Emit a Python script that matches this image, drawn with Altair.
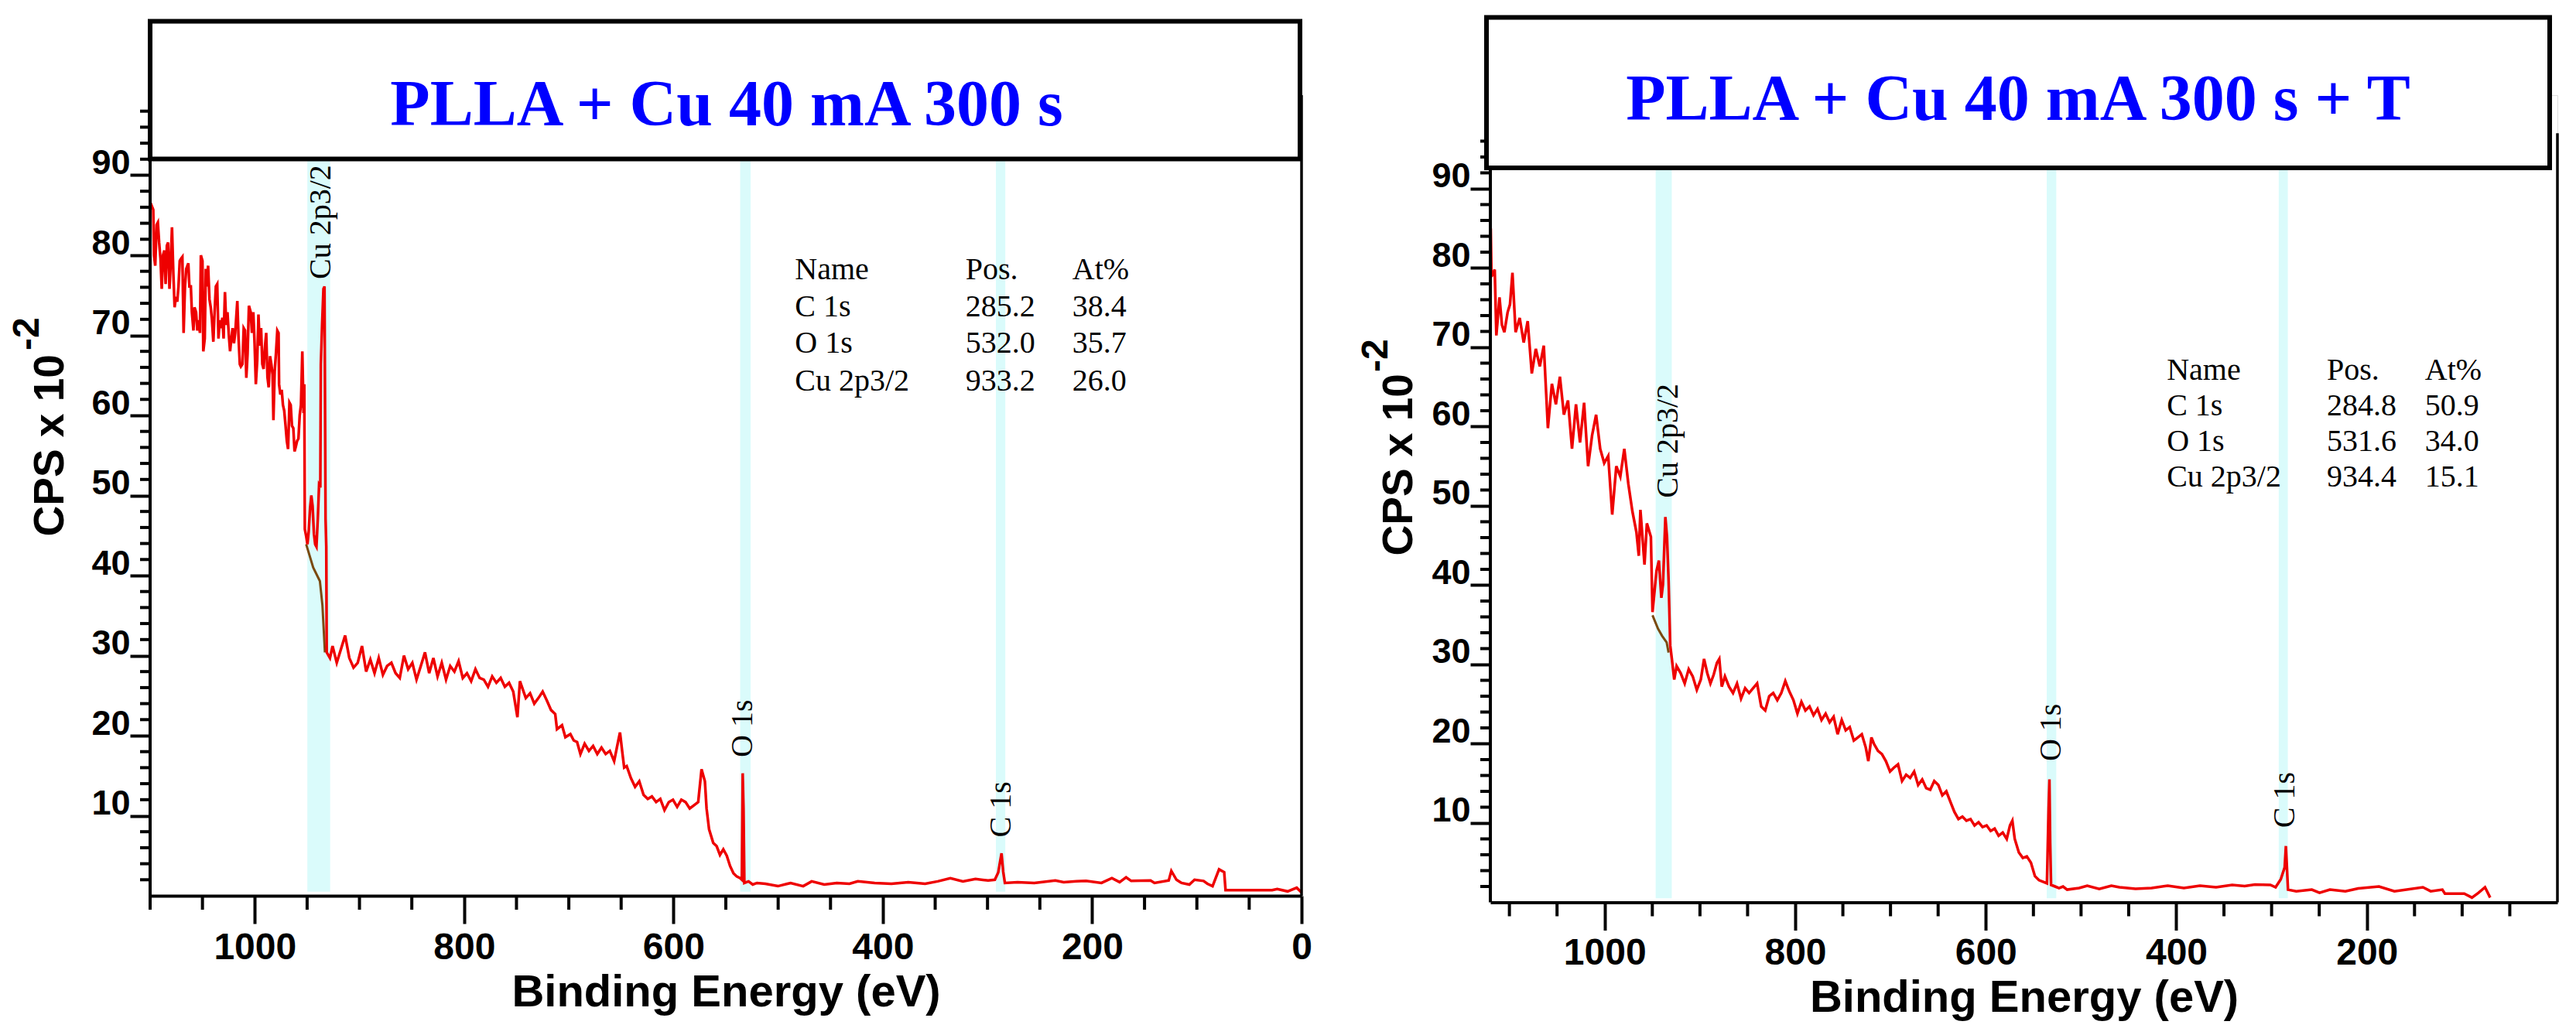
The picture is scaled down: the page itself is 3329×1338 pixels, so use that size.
import altair as alt
import pandas as pd

# ---------------- shared tick values / labels ----------------
Y_MAJOR = [10, 20, 30, 40, 50, 60, 70, 80, 90]
TABLE_HEAD = ["Name", "Pos.", "At%"]
PEAK_NAMES = ["Cu 2p3/2", "O 1s", "C 1s"]

# ---------------- Left panel: PLLA + Cu 40 mA 300 s ----------------
L_TITLE = "PLLA + Cu 40 mA 300 s"
L_X_MAJOR = [1000, 800, 600, 400, 200, 0]
L_X_MINOR = [1100, 1050, 950, 900, 850, 750, 700, 650, 550, 500, 450, 350, 300, 250, 150, 100, 50]
L_Y_MINOR = [v for v in range(2, 100, 2) if v % 10]
L_BE = [1099.5, 1097.0, 1096.3, 1095.1, 1093.8, 1092.6, 1091.4, 1090.1, 1088.9, 1087.7,
        1086.4, 1085.2, 1084.0, 1082.8, 1081.5, 1080.3, 1079.1, 1077.8, 1076.6, 1075.4,
        1074.1, 1072.9, 1071.7, 1070.4, 1069.2, 1068.0, 1066.7, 1065.5, 1063.5, 1062.5,
        1061.1, 1060.1, 1058.6, 1057.6, 1056.1, 1054.9, 1053.7, 1052.4, 1051.5, 1050.0,
        1049.2, 1047.8, 1046.8, 1045.8, 1044.6, 1043.3, 1042.1, 1040.9, 1039.6, 1038.4,
        1037.2, 1035.9, 1034.7, 1033.5, 1032.2, 1031.0, 1029.8, 1028.5, 1027.3, 1026.1,
        1024.8, 1023.6, 1022.4, 1021.2, 1019.9, 1018.7, 1016.7, 1015.5, 1014.3, 1013.3,
        1011.8, 1010.6, 1009.3, 1008.1, 1006.9, 1005.6, 1003.9, 1002.7, 1001.4, 1000.2,
        999.0, 997.7, 996.5, 995.3, 994.0, 992.8, 991.6, 990.4, 989.1, 987.9,
        986.7, 985.4, 984.2, 983.0, 982.2, 981.0, 979.8, 978.5, 977.3, 976.8,
        975.6, 974.3, 973.1, 971.9, 970.6, 969.4, 968.2, 966.9, 965.7, 964.5,
        963.2, 962.0, 960.8, 959.6, 958.3, 957.1, 955.9, 954.6, 953.4, 952.7,
        952.2, 950.9, 949.7, 948.5, 947.2, 946.0, 944.8, 943.5, 942.3, 941.1,
        939.8, 938.6, 937.4, 936.9, 935.7, 934.4, 933.4, 932.4, 931.7, 931.3,
        928.2, 925.7, 921.7, 917.7, 913.7, 909.7, 905.7, 901.7, 897.6, 893.6, 889.6,
        885.6, 881.6, 877.6, 873.6, 869.5, 865.5, 861.5, 857.5, 853.5, 849.5, 845.5, 841.4, 837.4, 833.4,
        829.4, 825.4, 821.4, 817.3, 813.3, 809.3, 805.3, 801.3, 797.3, 793.3, 789.2, 785.2, 781.2, 777.2,
        773.2, 769.2, 765.1, 761.1, 757.1, 753.1, 749.1, 746.7, 741.1, 737.0, 733.0, 729.0, 725.0, 721.0,
        717.0, 713.0, 711.3, 706.5, 703.3, 698.5, 695.3, 692.1, 688.9, 684.9, 680.8, 676.8, 672.8, 668.8,
        664.8, 660.8, 656.7, 652.7, 651.1, 648.7, 647.1, 644.7, 640.7, 636.7, 632.7, 628.6, 624.6, 620.6,
        616.6, 612.6, 608.6, 604.5, 600.5, 596.5, 592.5, 588.5, 584.5, 580.5, 576.4, 573.2, 570.0, 568.4,
        566.0, 562.0, 558.8, 555.6, 552.4, 549.1, 545.9, 542.7, 539.5, 536.3, 534.7, 533.9, 533.1, 532.3,
        528.3, 524.3, 520.2, 512.2, 500.2, 488.1, 476.1, 468.0, 456.0, 444.0, 431.9, 423.9, 407.8, 391.8,
        375.7, 359.6, 347.6, 335.5, 323.5, 311.5, 299.4, 293.0, 289.8, 286.6, 285.0, 283.4, 271.3, 255.3,
        235.2, 227.2, 215.1, 205.9, 191.1, 181.2, 173.8, 167.6, 162.7, 144.2, 140.5, 126.9, 124.4, 119.5,
        114.6, 107.2, 102.2, 93.6, 89.9, 85.0, 78.8, 73.9, 72.6, 28.1, 23.2, 13.3, 4.6, 0.0]
L_CPS = [86.5, 85.7, 80.0, 78.7, 83.8, 84.1, 81.6, 79.6, 75.8, 80.0,
         80.6, 76.4, 81.2, 81.6, 75.8, 79.0, 83.5, 77.7, 73.5, 74.8,
         74.2, 76.1, 79.3, 79.6, 79.8, 70.3, 76.1, 78.3, 79.0, 76.1,
         76.1, 72.9, 70.6, 73.5, 72.9, 70.6, 71.9, 70.3, 80.0, 79.3,
         68.0, 69.6, 78.3, 76.1, 78.7, 74.5, 73.5, 71.9, 69.2, 72.9,
         76.1, 76.4, 69.6, 71.9, 70.9, 72.2, 69.6, 75.4, 71.3, 72.9,
         70.0, 68.0, 69.6, 70.9, 69.0, 70.3, 74.3, 69.6, 66.4, 66.1,
         66.4, 70.9, 70.6, 64.7, 67.7, 73.7, 72.9, 70.3, 72.9, 69.0,
         63.9, 66.8, 72.6, 68.7, 70.9, 66.4, 65.8, 68.4, 70.3, 64.8,
         63.5, 67.4, 66.4, 65.1, 59.4, 65.5, 67.7, 70.6, 70.3, 63.9,
         62.6, 63.2, 61.3, 60.6, 58.7, 56.8, 55.8, 61.6, 61.3, 58.7,
         58.4, 55.5, 56.1, 56.8, 57.1, 60.0, 61.3, 68.0, 60.3, 63.9,
         45.8, 44.9, 43.9, 45.5, 48.4, 50.0, 48.7, 45.2, 43.9, 43.6,
         47.1, 51.3, 51.0, 66.4, 71.3, 75.8, 76.1, 47.1, 43.6, 30.4,
         29.7, 31.2, 29.1, 30.8, 32.5, 29.7, 28.5, 29.1, 31.2, 28.0, 29.5,
         27.8, 29.7, 27.6, 28.7, 29.1, 27.8, 27.2, 30.0, 28.3, 29.1, 27.0, 28.7, 30.4, 27.8,
         29.7, 27.4, 29.1, 27.0, 28.7, 28.0, 29.3, 27.2, 27.8, 26.8, 28.3, 27.2, 27.0, 26.1,
         27.4, 26.6, 27.2, 26.1, 26.6, 25.5, 22.3, 26.8, 24.7, 25.3, 24.0, 24.7, 25.5, 24.4,
         23.2, 22.7, 20.8, 21.3, 19.8, 20.2, 19.4, 19.2, 17.7, 19.0, 18.1, 18.7, 17.7, 18.5,
         17.7, 18.1, 16.8, 19.4, 20.4, 17.7, 16.0, 16.2, 14.7, 13.6, 14.3, 12.6, 12.1, 12.4,
         11.7, 12.1, 10.7, 11.7, 12.0, 11.1, 12.0, 11.7, 10.9, 11.3, 11.7, 15.8, 14.3, 10.9,
         8.3, 6.6, 6.2, 5.1, 5.8, 5.0, 3.7, 2.8, 2.4, 2.2, 2.0, 15.3, 10.9, 1.6,
         1.8, 1.4, 1.6, 1.5, 1.2, 1.6, 1.2, 1.8, 1.4, 1.6, 1.5, 1.8, 1.6, 1.5,
         1.7, 1.5, 1.8, 2.2, 1.8, 2.1, 1.9, 2.0, 2.9, 5.3, 3.0, 1.6, 1.7, 1.6,
         1.9, 1.7, 1.8, 1.85, 1.6, 2.2, 1.7, 2.3, 1.85, 1.9, 1.6, 1.9, 3.1, 2.0,
         1.6, 1.4, 2.0, 1.85, 1.5, 1.2, 3.3, 2.95, 0.7, 0.7, 0.85, 0.55, 1.0, 0.4]
L_BG_BE = [950.9, 944.2, 937.8, 935.4, 933.0]
L_BG_CPS = [43.9, 41.0, 39.3, 36.3, 30.4]
L_BAND_LO = [928.0, 526.3, 283.0]
L_BAND_HI = [949.8, 536.3, 292.0]
L_PEAK_BE = [936.5, 533.6, 287.0]
L_PEAK_Y = [77.0, 17.3, 7.3]
L_TABLE = [["C 1s", "285.2", "38.4"], ["O 1s", "532.0", "35.7"], ["Cu 2p3/2", "933.2", "26.0"]]
L_TABLE_X = [484, 321, 219]
L_TABLE_Y = [77.0, 72.4, 67.8, 63.1]

# ---------------- Right panel: PLLA + Cu 40 mA 300 s + T ----------------
R_TITLE = "PLLA + Cu 40 mA 300 s + T"
R_X_MAJOR = [1000, 800, 600, 400, 200]
R_X_MINOR = [1100, 1050, 950, 900, 850, 750, 700, 650, 550, 500, 450, 350, 300, 250, 150, 100, 50]
R_Y_MINOR = [v for v in range(2, 97, 2) if v % 10]
R_BE = [1119.6, 1118.8, 1115.4, 1113.7, 1110.4, 1107.8, 1105.3, 1101.9, 1099.4, 1096.8, 1093.5, 1089.2,
        1085.0, 1080.8, 1076.5, 1072.3, 1068.1, 1063.9, 1059.6, 1055.4, 1051.2, 1047.0, 1042.8, 1038.5,
        1034.3, 1030.1, 1025.9, 1021.6, 1017.4, 1013.2, 1009.0, 1004.7, 1000.5, 996.3, 992.1, 987.8,
        983.6, 979.4, 975.2, 970.9, 966.7, 964.2, 962.5, 958.2, 955.7, 951.5, 949.8, 945.6, 943.1, 940.5,
        938.8, 936.3, 934.6, 932.9, 931.2, 929.5, 927.0, 924.5, 920.2, 916.0, 911.8, 907.6, 903.3, 899.1,
        895.7, 892.3, 889.0, 885.6, 882.2, 879.7, 877.1, 873.8, 869.5, 865.3, 861.1, 856.9, 852.6, 848.4,
        844.2, 840.0, 835.7, 831.5, 827.3, 823.1, 818.8, 814.6, 810.4, 806.2, 801.9, 797.7, 793.5, 789.3,
        785.0, 780.8, 776.6, 772.4, 768.1, 763.9, 759.7, 755.5, 751.2, 747.0, 742.8, 738.5, 734.3, 730.1,
        725.9, 723.3, 720.0, 717.4, 713.2, 709.0, 704.8, 700.5, 696.3, 692.1, 687.9, 683.6, 679.4, 675.2,
        671.0, 666.7, 662.5, 658.3, 654.1, 649.8, 645.6, 641.4, 637.2, 632.9, 628.7, 624.5, 620.3, 616.0,
        611.8, 607.6, 603.4, 599.1, 594.9, 590.7, 586.5, 582.2, 578.0, 574.6, 572.1, 569.6, 565.3, 561.1,
        556.9, 552.6, 548.4, 544.2, 540.0, 535.8, 534.1, 533.2, 532.4, 531.5, 527.3, 523.1, 518.9, 514.6,
        502.0, 493.5, 480.9, 468.2, 459.7, 442.8, 425.9, 409.0, 392.1, 375.2, 358.3, 341.4, 328.3, 317.5,
        301.3, 295.8, 290.4, 286.3, 285.0, 282.8, 274.1, 257.8, 249.7, 238.8, 222.6, 209.0, 187.3, 171.1,
        141.2, 133.0, 120.8, 118.1, 97.8, 89.7, 82.8, 76.0, 70.6]
R_CPS = [85.0, 78.9, 79.8, 71.5, 76.3, 72.8, 71.9, 74.4, 75.4, 79.4, 71.9, 73.7,
         70.6, 73.3, 66.7, 69.8, 67.6, 70.2, 59.8, 65.4, 62.8, 66.3, 61.5, 63.3,
         57.2, 62.8, 58.0, 63.0, 55.0, 58.9, 61.5, 57.2, 55.4, 56.3, 48.9, 55.0,
         53.7, 57.2, 52.8, 49.3, 46.7, 43.7, 49.5, 42.6, 47.8, 46.1, 36.6, 41.8, 43.1, 38.4,
         40.1, 48.6, 46.1, 40.5, 32.4, 30.7, 28.1, 29.8, 28.9, 27.6, 29.4, 28.5, 26.8, 28.1,
         30.7, 28.9, 27.6, 28.7, 30.2, 30.7, 27.2, 28.5, 27.2, 26.4, 27.6, 25.7, 27.0, 26.4,
         27.0, 27.6, 24.7, 24.2, 26.0, 26.4, 25.5, 26.4, 27.9, 26.6, 25.5, 23.8, 25.3, 24.2,
         24.7, 23.6, 24.4, 23.0, 23.8, 22.7, 23.4, 21.2, 23.0, 21.7, 22.1, 20.4, 20.8, 21.2,
         19.5, 17.8, 20.8, 20.0, 19.1, 18.7, 17.8, 16.5, 17.0, 17.4, 15.3, 16.1, 15.7, 16.5,
         14.8, 15.5, 14.4, 14.2, 15.3, 14.8, 13.5, 14.0, 12.7, 11.4, 10.5, 10.8, 10.3, 10.5,
         9.7, 10.1, 9.5, 9.7, 9.0, 9.3, 8.4, 8.8, 8.0, 9.7, 10.3, 8.0, 6.3, 5.6,
         5.8, 5.0, 3.3, 2.8, 2.6, 2.4, 11.8, 15.5, 7.5, 2.2, 2.0, 1.8, 2.0, 1.6,
         1.8, 2.1, 1.7, 2.1, 1.9, 1.7, 1.8, 2.1, 1.8, 2.1, 1.9, 2.2, 2.05, 2.25,
         2.2, 1.9, 2.9, 4.4, 7.1, 1.6, 1.4, 1.6, 1.2, 1.6, 1.4, 1.75, 2.0, 1.4,
         1.9, 1.4, 1.6, 1.1, 1.1, 0.6, 1.2, 1.9, 0.6]
R_BG_BE = [949.8, 944.0, 939.7, 935.0, 932.9]
R_BG_CPS = [36.2, 34.5, 33.6, 32.8, 31.5]
R_BAND_LO = [929.6, 526.0, 283.0]
R_BAND_HI = [946.5, 536.0, 292.5]
R_PEAK_BE = [933.0, 531.0, 286.0]
R_PEAK_Y = [51.0, 17.8, 9.4]
R_TABLE = [["C 1s", "284.8", "50.9"], ["O 1s", "531.6", "34.0"], ["Cu 2p3/2", "934.4", "15.1"]]
R_TABLE_X = [410, 242, 139]
R_TABLE_Y = [65.9, 61.4, 56.9, 52.4]

SANS = "Liberation Sans"
SERIF = "Liberation Serif"
RED = "#EE0000"
BROWN = "#7A4A10"
BAND = "#DAFBFB"


def panel(title, be, cps, bg_be, bg_cps, band_lo, band_hi, peak_be, peak_y, table, table_x, table_y,
          x_major, x_minor, y_minor, xmax, ymax, frame_top, W, H, lay):
    xs = alt.Scale(domain=[0, xmax], reverse=True, nice=False, zero=False)
    ys = alt.Scale(domain=[0, ymax], nice=False, zero=False)
    x_axis = alt.Axis(values=x_major, format="d", tickSize=36, tickWidth=4, tickColor="black",
                      domainWidth=4, domainColor="black", grid=False,
                      labelFont=SANS, labelFontWeight="bold", labelFontSize=48, labelColor="black",
                      labelPadding=lay["labelPad"], labelFlush=False, labelOverlap=False,
                      title="Binding Energy (eV)", titleFont=SANS, titleFontWeight="bold",
                      titleFontSize=58, titleColor="black", titleY=lay["titleY"],
                      titleBaseline="alphabetic")
    y_axis = alt.Axis(values=Y_MAJOR, format="d", tickSize=26, tickWidth=4, tickColor="black",
                      domain=False, grid=False,
                      labelFont=SANS, labelFontWeight="bold", labelFontSize=45, labelColor="black",
                      labelPadding=0, labelBaseline="alphabetic", labelOffset=-2,
                      labelFlush=False, labelOverlap=False, title=None)

    def X(f):
        return alt.X(f, type="quantitative", scale=xs, axis=x_axis)

    def Y(f):
        return alt.Y(f, type="quantitative", scale=ys, axis=y_axis)

    bands = pd.DataFrame({"lo": band_lo, "hi": band_hi, "y0": [0.5] * len(band_lo),
                          "y1": [frame_top] * len(band_lo)})
    band_l = alt.Chart(bands).mark_rect(color=BAND).encode(
        x=X("lo"), x2="hi", y=Y("y0"), y2="y1")

    spec = pd.DataFrame({"be": be, "cps": cps, "i": list(range(len(be)))})
    line_l = alt.Chart(spec).mark_line(color=RED, strokeWidth=3.5, strokeJoin="miter").encode(
        x=X("be"), y=Y("cps"), order="i:Q")

    bg = pd.DataFrame({"be": bg_be, "cps": bg_cps, "i": list(range(len(bg_be)))})
    bg_l = alt.Chart(bg).mark_line(color=BROWN, strokeWidth=3).encode(
        x=X("be"), y=Y("cps"), order="i:Q")

    peaks = pd.DataFrame({"be": peak_be, "y": peak_y, "t": PEAK_NAMES})
    peak_l = alt.Chart(peaks).mark_text(angle=270, align="left", baseline="middle", font=SERIF,
                                        fontSize=40, color="black").encode(
        x=X("be"), y=Y("y"), text="t:N")

    rows = []
    for c, head in enumerate(TABLE_HEAD):
        rows.append({"x": table_x[c], "y": table_y[0], "t": head})
    for r, row in enumerate(table):
        for c, val in enumerate(row):
            rows.append({"x": table_x[c], "y": table_y[r + 1], "t": val})
    tab_l = alt.Chart(pd.DataFrame(rows)).mark_text(align="left", baseline="alphabetic", font=SERIF,
                                                    fontSize=40, color="black").encode(
        x=X("x"), y=Y("y"), text="t:N")

    xm = pd.DataFrame({"v": x_minor})
    xminor_l = alt.Chart(xm).mark_rule(color="black", strokeWidth=4).encode(
        x=X("v"), y=alt.value(H), y2=alt.value(H + 18))
    ym = pd.DataFrame({"v": y_minor})
    yminor_l = alt.Chart(ym).mark_rule(color="black", strokeWidth=4).encode(
        y=Y("v"), x=alt.value(-13), x2=alt.value(0))

    frame = pd.DataFrame({"y0": [0], "y1": [frame_top]})
    yline_l = alt.Chart(frame).mark_rule(color="black", strokeWidth=4).encode(
        x=alt.value(0), y=Y("y0"), y2="y1")
    rline_l = alt.Chart(frame).mark_rule(color="black", strokeWidth=3.5).encode(
        x=alt.value(W), y=Y("y0"), y2="y1")

    one = pd.DataFrame({"title": [title], "ylab": ["CPS x 10"], "sup": ["-2"]})
    box_l = alt.Chart(one).mark_rect(fill="white", stroke="black", strokeWidth=6).encode(
        x=alt.value(lay["box_x0"]), x2=alt.value(lay["box_x1"]),
        y=alt.value(lay["box_y0"]), y2=alt.value(lay["box_y1"]))
    title_l = alt.Chart(one).mark_text(font=SERIF, fontWeight="bold", fontSize=84, color="#0000FF",
                                       align="center", baseline="alphabetic").encode(
        x=alt.value(lay["title_x"]), y=alt.value(lay["title_y"]), text="title:N")
    ylab_l = alt.Chart(one).mark_text(font=SANS, fontWeight="bold", fontSize=55, color="black",
                                      angle=270, align="left", baseline="middle").encode(
        x=alt.value(lay["ylab_x"]), y=alt.value(lay["ylab_y"]), text="ylab:N")
    sup_l = alt.Chart(one).mark_text(font=SANS, fontWeight="bold", fontSize=48, color="black",
                                     angle=270, align="left", baseline="middle").encode(
        x=alt.value(lay["sup_x"]), y=alt.value(lay["sup_y"]), text="sup:N")

    return alt.layer(band_l, bg_l, line_l, peak_l, tab_l, xminor_l, yminor_l, yline_l, rline_l,
                     box_l, title_l, ylab_l, sup_l).properties(width=W, height=H)


left = panel(L_TITLE, L_BE, L_CPS, L_BG_BE, L_BG_CPS, L_BAND_LO, L_BAND_HI, L_PEAK_BE, L_PEAK_Y,
             L_TABLE, L_TABLE_X, L_TABLE_Y, L_X_MAJOR, L_X_MINOR, L_Y_MINOR, 1100, 100, 100,
             1488, 1035,
             {"titleY": 142, "labelPad": 7, "box_x0": 0, "box_x1": 1486, "box_y0": -95.5,
              "box_y1": 82.5, "title_x": 745, "title_y": 38.5, "ylab_x": -129, "ylab_y": 570.5,
              "sup_x": -158, "sup_y": 330})
right = panel(R_TITLE, R_BE, R_CPS, R_BG_BE, R_BG_CPS, R_BAND_LO, R_BAND_HI, R_PEAK_BE, R_PEAK_Y,
              R_TABLE, R_TABLE_X, R_TABLE_Y, R_X_MAJOR, R_X_MINOR, R_Y_MINOR, 1120, 101.8, 97,
              1379, 1043.5,
              {"titleY": 141, "labelPad": 6, "box_x0": -5, "box_x1": 1369, "box_y0": -100.5,
               "box_y1": 94, "title_x": 682, "title_y": 31.5, "ylab_x": -118, "ylab_y": 595.5,
               "sup_x": -147, "sup_y": 358})

chart = alt.hconcat(left, right, spacing=58).properties(
    padding={"left": 3, "top": 11, "right": 5, "bottom": 5}
).configure_view(stroke="transparent", strokeWidth=0).configure(background="white")

chart.save("out.html", embed_options={"renderer": "svg", "actions": False})
